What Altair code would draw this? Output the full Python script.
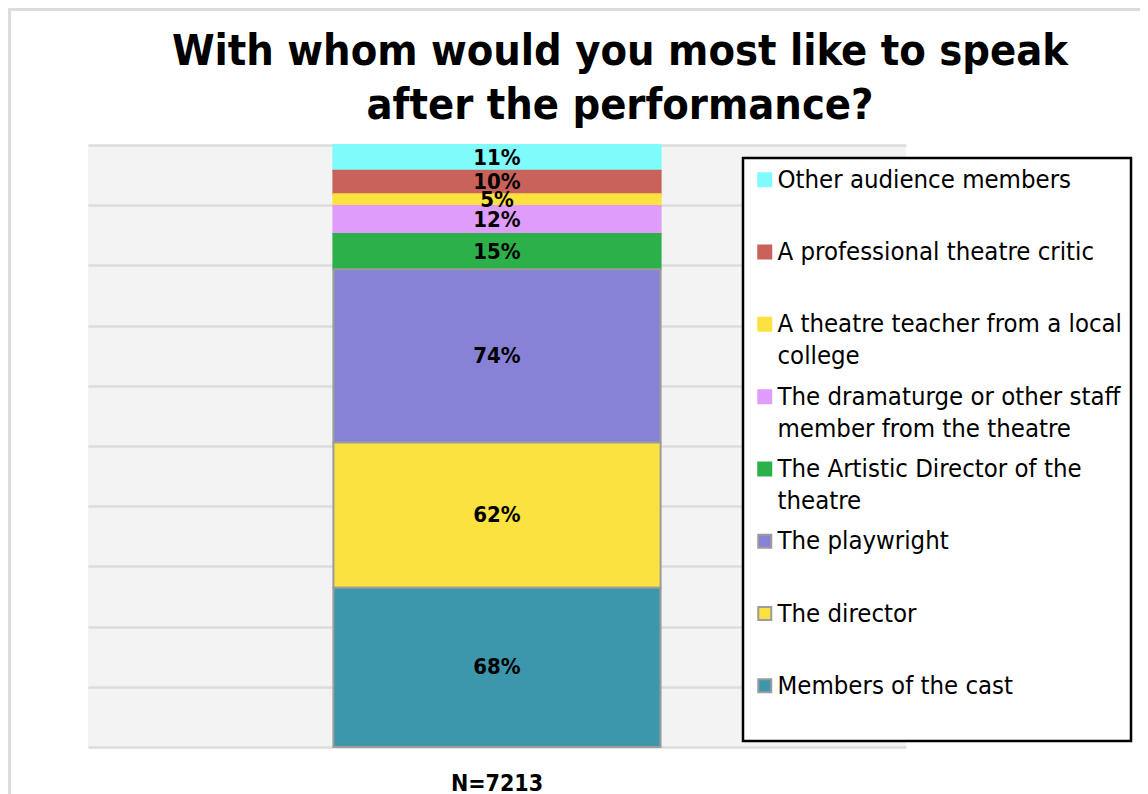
import altair as alt
import pandas as pd

# ---------------- data ----------------
TITLE_LINES = ["With whom would you most like to speak", "after the performance?"]
BAR_LABEL = "N=7213"
CATEGORIES = [
    "Other audience members",
    "A professional theatre critic",
    "A theatre teacher from a local college",
    "The dramaturge or other staff member from the theatre",
    "The Artistic Director of the theatre",
    "The playwright",
    "The director",
    "Members of the cast",
]
VALUES = [11, 10, 5, 12, 15, 74, 62, 68]
COLORS = ["#80fbfb", "#c9625a", "#fbe240", "#e09cfb", "#2bb04a", "#8782d6", "#fbe240", "#3c97ad"]
OUTLINED = [False, False, False, False, False, True, True, True]
LEGEND_LINES = [
    ["Other audience members"],
    ["A professional theatre critic"],
    ["A theatre teacher from a local", "college"],
    ["The dramaturge or other staff", "member from the theatre"],
    ["The Artistic Director of the", "theatre"],
    ["The playwright"],
    ["The director"],
    ["Members of the cast"],
]
Y_MAX = 257
GRID_VALUES = [0, 25.7, 51.4, 77.1, 102.8, 128.5, 154.2, 179.9, 205.6, 231.3, 257]

FONT = "DejaVu Sans Condensed, DejaVu Sans"
OUTLINE = "#9c9c9c"

df = pd.DataFrame({
    "group": [BAR_LABEL] * len(CATEGORIES),
    "category": CATEGORIES,
    "value": VALUES,
    "label": [f"{v}%" for v in VALUES],
    "stackorder": list(range(len(CATEGORIES) - 1, -1, -1)),
})

# legend label expression (wrapped, always two lines)
def js(s):
    return "'" + s.replace("'", "\\'") + "'"

expr = "datum.label"
for cat, lines in reversed(list(zip(CATEGORIES, LEGEND_LINES))):
    ls = lines if len(lines) == 2 else [lines[0], " "]
    expr = f"datum.label == {js(cat)} ? [{js(ls[0])}, {js(ls[1])}] : ({expr})"

STROKES = [OUTLINE if o else c for c, o in zip(COLORS, OUTLINED)]

legend = alt.Legend(
    title=None,
    orient="none",
    legendX=655,
    legendY=13,
    fillColor="white",
    strokeColor="black",
    padding=9,
    rowPadding=13.3,
    labelFont=FONT,
    labelFontSize=25.5,
    labelColor="black",
    labelLimit=420,
    labelOffset=0,
    labelExpr=expr,
    symbolType="square",
    symbolSize=169,
    symbolOpacity=1,
    symbolOffset=0,
    symbolStrokeWidth=2,
)

x_enc = alt.X(
    "group:N",
    title=None,
    scale=alt.Scale(paddingInner=0, paddingOuter=0.75),
    axis=alt.Axis(labelAngle=0, ticks=False, domain=False, labelFont=FONT,
                  labelFontSize=23, labelFontWeight="bold", labelColor="black",
                  labelPadding=25),
)

base = alt.Chart(df).transform_stack(
    stack="value", groupby=["group"], sort=[alt.SortField("stackorder", order="ascending")],
    as_=["y0", "y1"],
).transform_calculate(mid="(datum.y0 + datum.y1) / 2")

bars = base.mark_bar(strokeWidth=2).encode(
    x=x_enc,
    y=alt.Y("y0:Q", title=None, scale=alt.Scale(domain=[0, Y_MAX], nice=False),
            axis=alt.Axis(values=GRID_VALUES, labels=False, ticks=False, domain=False,
                          grid=True, gridColor="#dcdcdc", gridWidth=2.5)),
    y2="y1:Q",
    color=alt.Color("category:N", scale=alt.Scale(domain=CATEGORIES, range=COLORS), legend=legend),
    stroke=alt.Stroke("category:N", scale=alt.Scale(domain=CATEGORIES, range=STROKES), legend=legend),
)

text = base.mark_text(font=FONT, fontSize=22, fontWeight="bold", color="black",
                      baseline="middle").encode(
    x=alt.X("group:N"),
    y=alt.Y("mid:Q"),
    text="label:N",
)

frame = alt.Chart(pd.DataFrame({"f": [0]})).mark_rect(
    fill="transparent", stroke="#dcdcdc", strokeWidth=3
).encode(
    x=alt.value(-78.5), x2=alt.value(1300), y=alt.value(-135.5), y2=alt.value(900)
)

chart = alt.layer(frame, bars, text).properties(
    width=818,
    height=602,
    autosize=alt.AutoSizeParams(type="none"),
    padding={"left": 80, "top": 137, "right": 234, "bottom": 47},
    title=alt.TitleParams(
        text=TITLE_LINES, font=FONT, fontSize=43, fontWeight="bold", color="black",
        lineHeight=54, anchor="middle", dx=123, dy=120, offset=0,
    ),
).configure(
    view=alt.ViewConfig(fill="#f3f3f3", strokeWidth=0),
    legend=alt.LegendConfig(strokeWidth=2.5),
    style={"guide-label": {"lineHeight": 32}},
)

chart.save("out.html", embed_options={"renderer": "svg", "actions": False})
